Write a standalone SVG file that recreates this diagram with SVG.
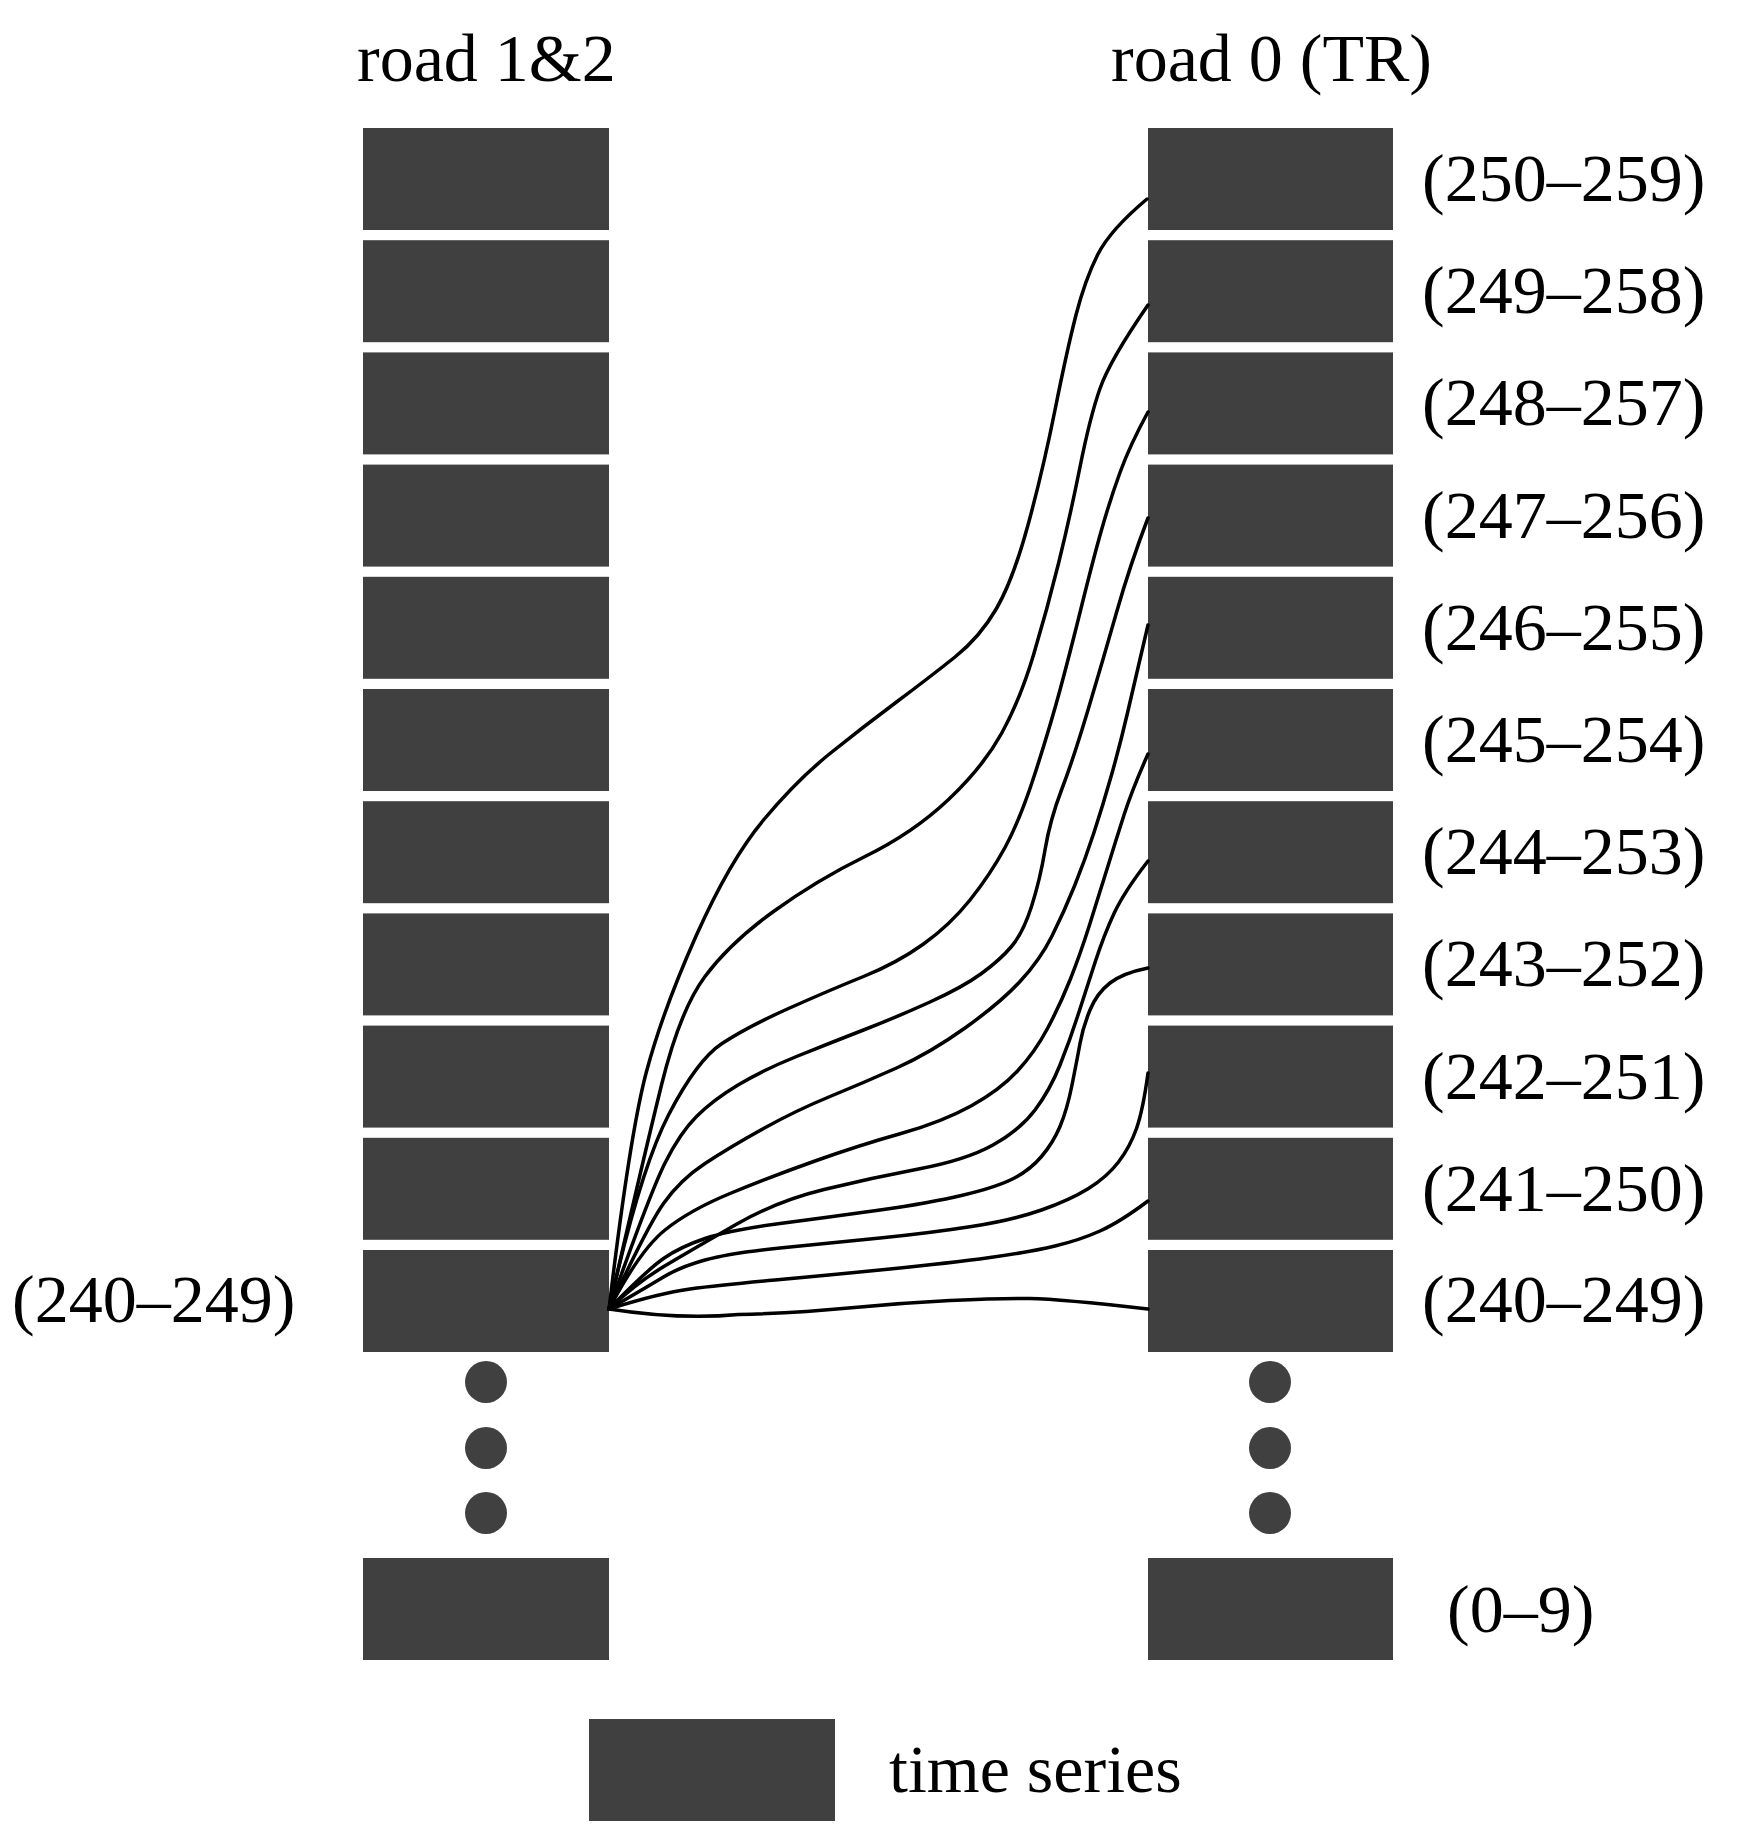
<svg xmlns="http://www.w3.org/2000/svg" width="1738" height="1846" viewBox="0 0 1738 1846">
<style>
.box{fill:#404040}
.dot{fill:#404040}
.t{font-family:"Liberation Serif","Times New Roman",serif;font-size:68px;fill:#000}
.c{fill:none;stroke:#000;stroke-width:3.5;stroke-linecap:round;stroke-linejoin:round}
</style>
<rect width="1738" height="1846" fill="#fff"/>
<g id="title-left"><text class="t" x="357" y="81">road 1&amp;2</text></g>
<g id="title-right"><text class="t" x="1111" y="81">road 0 (TR)</text></g>
<g id="left-column">
<rect class="box" x="363" y="128" width="246" height="102"/>
<rect class="box" x="363" y="240.2" width="246" height="102"/>
<rect class="box" x="363" y="352.4" width="246" height="102"/>
<rect class="box" x="363" y="464.6" width="246" height="102"/>
<rect class="box" x="363" y="576.8" width="246" height="102"/>
<rect class="box" x="363" y="689" width="246" height="102"/>
<rect class="box" x="363" y="801.2" width="246" height="102"/>
<rect class="box" x="363" y="913.4" width="246" height="102"/>
<rect class="box" x="363" y="1025.6" width="246" height="102"/>
<rect class="box" x="363" y="1137.8" width="246" height="102"/>
<g id="left-240-249"><rect class="box" x="363" y="1250" width="246" height="102"/><text class="t" x="12" y="1322">(240–249)</text></g>
<circle class="dot" cx="486" cy="1382" r="21"/>
<circle class="dot" cx="486" cy="1448" r="21"/>
<circle class="dot" cx="486" cy="1513" r="21"/>
<rect class="box" x="363" y="1558" width="246" height="102"/>
</g>
<g id="right-column">
<g id="r250"><rect class="box" x="1148" y="128" width="245" height="102"/><text class="t" x="1422" y="201">(250–259)</text></g>
<g id="r249"><rect class="box" x="1148" y="240.2" width="245" height="102"/><text class="t" x="1422" y="313.2">(249–258)</text></g>
<g id="r248"><rect class="box" x="1148" y="352.4" width="245" height="102"/><text class="t" x="1422" y="425.4">(248–257)</text></g>
<g id="r247"><rect class="box" x="1148" y="464.6" width="245" height="102"/><text class="t" x="1422" y="537.6">(247–256)</text></g>
<g id="r246"><rect class="box" x="1148" y="576.8" width="245" height="102"/><text class="t" x="1422" y="649.8">(246–255)</text></g>
<g id="r245"><rect class="box" x="1148" y="689" width="245" height="102"/><text class="t" x="1422" y="762">(245–254)</text></g>
<g id="r244"><rect class="box" x="1148" y="801.2" width="245" height="102"/><text class="t" x="1422" y="874.2">(244–253)</text></g>
<g id="r243"><rect class="box" x="1148" y="913.4" width="245" height="102"/><text class="t" x="1422" y="986.4">(243–252)</text></g>
<g id="r242"><rect class="box" x="1148" y="1025.6" width="245" height="102"/><text class="t" x="1422" y="1098.6">(242–251)</text></g>
<g id="r241"><rect class="box" x="1148" y="1137.8" width="245" height="102"/><text class="t" x="1422" y="1210.8">(241–250)</text></g>
<g id="r240"><rect class="box" x="1148" y="1250" width="245" height="102"/><text class="t" x="1422" y="1322">(240–249)</text></g>
<circle class="dot" cx="1270" cy="1382" r="21"/>
<circle class="dot" cx="1270" cy="1448" r="21"/>
<circle class="dot" cx="1270" cy="1513" r="21"/>
<g id="r0"><rect class="box" x="1148" y="1558" width="245" height="102"/><text class="t" x="1447" y="1632">(0–9)</text></g>
</g>
<g id="connectors">
<path class="c" d="M609,1309 Q630,1133 646.5,1071.5 Q663,1010 696.5,935 Q730,860 763.5,820 Q797,780 830,753.5 Q863,727 896.5,702 Q930,677 955,657 Q980,637 996.5,608.5 Q1013,580 1028,525 Q1043,470 1055,410 Q1067,350 1076,315 Q1085,280 1097.5,255 Q1110,230 1147,199"/>
<path class="c" d="M609,1309 Q643,1160 661.5,1085 Q680,1010 705,976.5 Q730,943 773.5,911.5 Q817,880 865,856.5 Q913,833 948,800 Q983,767 1001.5,733.5 Q1020,700 1033.5,655 Q1047,610 1058.5,563.5 Q1070,517 1080,467 Q1090,417 1100,388.5 Q1110,360 1148,305"/>
<path class="c" d="M609,1309 Q640,1170 668.5,1115 Q697,1060 722,1043.5 Q747,1027 788.5,1008.5 Q830,990 863.5,976.5 Q897,963 923.5,944 Q950,925 970,900 Q990,875 1005,847.5 Q1020,820 1035,773.5 Q1050,727 1060,690 Q1070,653 1081.5,606.5 Q1093,560 1101.5,530 Q1110,500 1120,472.5 Q1130,445 1148,412"/>
<path class="c" d="M609,1309 Q650,1193 665,1163 Q680,1133 696.5,1116.5 Q713,1100 738,1085 Q763,1070 796.5,1056.5 Q830,1043 863.5,1030 Q897,1017 930,1002 Q963,987 981.5,973.5 Q1000,960 1011.5,946.5 Q1023,933 1031.5,906.5 Q1040,880 1045,850 Q1050,820 1061.5,790 Q1073,760 1088,710 Q1103,660 1116.5,612.5 Q1130,565 1148,518"/>
<path class="c" d="M609,1309 Q647,1227 663.5,1203.5 Q680,1180 705,1163.5 Q730,1147 763.5,1128.5 Q797,1110 830,1096.5 Q863,1083 896.5,1068 Q930,1053 965,1028 Q1000,1003 1020,981.5 Q1040,960 1052,936 Q1064,912 1074.5,886 Q1085,860 1094,832.5 Q1103,805 1111.5,775 Q1120,745 1127,715 Q1134,685 1148,625"/>
<path class="c" d="M609,1309 Q640,1250 665,1230 Q690,1210 730,1193.5 Q770,1177 815,1161 Q860,1145 901,1133.5 Q942,1122 971,1106 Q1000,1090 1017.5,1071 Q1035,1052 1047.5,1028.5 Q1060,1005 1070,980 Q1080,955 1089.5,925 Q1099,895 1107.5,867.5 Q1116,840 1124,815 Q1132,790 1148,754"/>
<path class="c" d="M609,1309 Q636,1283 665.5,1265.5 Q695,1248 736,1224.5 Q777,1201 824,1189.5 Q871,1178 918.5,1169 Q966,1160 993,1145 Q1020,1130 1035,1110 Q1050,1090 1060,1065 Q1070,1040 1078,1015 Q1086,990 1095,962.5 Q1104,935 1114,913.5 Q1124,892 1148,861"/>
<path class="c" d="M609,1309 Q647,1270 663.5,1258.5 Q680,1247 705,1238.5 Q730,1230 780,1223.5 Q830,1217 880,1210 Q930,1203 963.5,1195 Q997,1187 1013.5,1178.5 Q1030,1170 1041.5,1156.5 Q1053,1143 1060,1126.5 Q1067,1110 1072,1085 Q1077,1060 1080,1043.5 Q1083,1027 1090,1010 Q1097,993 1110,983 Q1123,973 1148,968"/>
<path class="c" d="M609,1309 Q647,1287 663.5,1277 Q680,1267 705,1260 Q730,1253 780,1248 Q830,1243 880,1238 Q930,1233 971.5,1226.5 Q1013,1220 1041.5,1210 Q1070,1200 1088.5,1188.5 Q1107,1177 1118.5,1162 Q1130,1147 1136.5,1128.5 Q1143,1110 1148,1073"/>
<path class="c" d="M609,1309 Q660,1293 690,1289 Q720,1285 775,1280 Q830,1275 890,1269 Q950,1263 990,1257.5 Q1030,1252 1055,1246 Q1080,1240 1100,1231 Q1120,1222 1148,1201"/>
<path class="c" d="M609,1309 Q680,1320 738.5,1314.5 Q797,1313 848.5,1308 Q900,1303 950,1300.5 Q1000,1298 1030,1298.5 Q1060,1299 1148,1309"/>
</g>
<g id="legend">
<rect class="box" x="589" y="1719" width="246" height="102"/>
<text class="t" x="889" y="1792">time series</text>
</g>
</svg>
